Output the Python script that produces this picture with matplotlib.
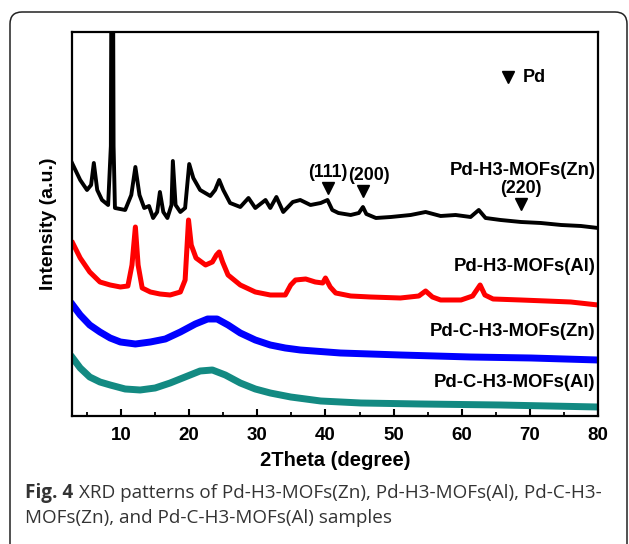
import matplotlib
matplotlib.use("Agg")
import matplotlib.pyplot as plt
from matplotlib.patches import FancyBboxPatch

plt.rcParams['font.family'] = ['Liberation Sans', 'DejaVu Sans']

# ---------------- datos ----------------
# Pd-H3-MOFs(Zn)
zn_x = [2.8, 4.0, 5.0, 5.6, 6.0, 6.5, 7.2, 8.1, 8.5, 8.7, 8.9, 9.1, 10.6, 11.5, 12.1, 12.7,
        13.4, 14.1, 14.7, 15.3, 15.7, 16.2, 16.8, 17.4, 17.6, 18.0, 18.7, 19.4, 20.0, 20.6,
        21.6, 23.1, 23.8, 24.4, 25.0, 26.0, 27.5, 28.7, 29.7, 31.2, 31.9, 32.8, 33.8, 35.2,
        36.3, 37.8, 39.3, 40.3, 41.0, 41.9, 43.7, 44.9, 45.5, 46.0, 47.4, 49.6, 52.5, 54.7,
        56.9, 59.1, 61.3, 62.5, 63.5, 65.7, 68.7, 71.6, 74.6, 77.5, 80.0]
zn_y = [253, 236, 226, 231, 253, 226, 216, 211, 270, 700, 270, 208, 206, 221, 249, 221,
        208, 210, 198, 204, 224, 204, 198, 211, 255, 211, 204, 208, 252, 238,
        226, 220, 226, 236, 226, 213, 209, 218, 208, 216, 208, 219, 204, 214,
        216, 211, 213, 216, 206, 203, 201, 203, 209, 202, 198, 199, 201, 204,
        200, 201, 199, 206, 198, 196, 194, 193, 191, 190, 188]

# Pd-H3-MOFs(Al)
al_x = [2.9, 4.0, 5.4, 6.9, 8.4, 9.9, 11.0, 11.6, 12.1, 12.5, 13.1, 14.3, 15.7, 17.2, 18.7,
        19.4, 19.9, 20.3, 21.0, 22.4, 23.4, 24.0, 24.4, 24.9, 25.7, 27.5, 29.7, 31.9, 34.1,
        34.9, 35.6, 37.1, 38.5, 39.6, 40.0, 40.7, 41.5, 43.7, 46.6, 51.0, 53.7, 54.7, 55.7,
        56.9, 59.9, 61.6, 62.7, 63.4, 64.6, 68.7, 72.4, 76.0, 80.0]
al_y = [173, 158, 144, 134, 131, 129, 130, 151, 189, 151, 128, 124, 122, 121, 124,
        136, 196, 171, 158, 151, 154, 161, 164, 154, 141, 131, 124, 121, 121,
        131, 136, 137, 134, 133, 138, 129, 123, 120, 119, 118, 120, 125, 119,
        116, 116, 120, 131, 121, 117, 116, 115, 114, 111]

# Pd-C-H3-MOFs(Zn)
czn_x = [2.9, 4.0, 5.4, 6.9, 8.4, 9.9, 12.1, 14.3, 16.5, 18.7, 20.9, 22.7, 24.1, 25.7,
         27.5, 29.7, 31.9, 34.1, 36.3, 42.2, 51.0, 61.3, 70.2, 80.0]
czn_y = [111, 101, 91, 84, 78, 74, 72, 74, 77, 84, 92, 97, 97, 91,
         83, 76, 71, 68, 66, 63, 61, 59, 58, 56]

# Pd-C-H3-MOFs(Al)
cal_x = [2.9, 4.0, 5.4, 6.9, 8.4, 10.6, 12.8, 15.0, 17.2, 19.4, 21.6, 23.4, 25.3, 27.5,
         29.7, 31.9, 34.9, 39.3, 45.2, 54.0, 65.7, 80.0]
cal_y = [58, 48, 39, 34, 31, 27, 26, 28, 33, 39, 45, 46, 41, 33,
         27, 23, 19, 15, 13, 12, 11, 9]

# picos de Pd
pd_hkl = ['(111)', '(200)', '(220)']
pd_x = [40.3, 45.5, 68.7]
pd_y = [228, 225, 212]

names = ['Pd-H3-MOFs(Zn)', 'Pd-H3-MOFs(Al)', 'Pd-C-H3-MOFs(Zn)', 'Pd-C-H3-MOFs(Al)']
name_y = [245, 149, 84, 33]

# ---------------- grafica ----------------
fig = plt.figure(figsize=(6.29, 5.44), dpi=100)

frame = FancyBboxPatch((0.10, -0.4), 6.17, 5.72, boxstyle="round,pad=0,rounding_size=0.12",
                       transform=fig.dpi_scale_trans, fill=False, ec='#222222', lw=1.1)
fig.patches.append(frame)

ax = fig.add_axes([0.1145, 0.2353, 0.8362, 0.7059])
ax.plot(zn_x, zn_y, color='black', lw=2.8)
ax.plot(al_x, al_y, color='#ff0000', lw=3.6)
ax.plot(czn_x, czn_y, color='#0000ff', lw=5)
ax.plot(cal_x, cal_y, color='#138a82', lw=5)

for lab, xx, yy in zip(pd_hkl, pd_x, pd_y):
    ax.plot(xx, yy, marker='v', color='black', ms=9, ls='none')
    ax.text(xx + (0.9 if lab == '(200)' else 0.0), yy + 15, lab, ha='center', va='center',
            fontsize=12.8, fontweight='bold')

ax.plot(66.8, 339, marker='v', color='black', ms=9, ls='none')
ax.text(69.0, 338, 'Pd', ha='left', va='center', fontsize=13, fontweight='bold')

for n, yy in zip(names, name_y):
    ax.text(79.6, yy, n, ha='right', va='center', fontsize=13.3, fontweight='bold')

ax.set_xlim(2.8, 80)
ax.set_ylim(0, 384)
ax.set_xticks([10, 20, 30, 40, 50, 60, 70, 80])
ax.set_xticks([5, 15, 25, 35, 45, 55, 65, 75], minor=True)
ax.set_yticks([])
ax.tick_params(axis='x', which='major', direction='in', length=5, width=1.5, pad=8,
               labelsize=13.5)
ax.tick_params(axis='x', which='minor', direction='in', length=3, width=1.3)
for lbl in ax.get_xticklabels():
    lbl.set_fontweight('bold')
for s in ax.spines.values():
    s.set_linewidth(1.6)

ax.set_xlabel('2Theta (degree)', fontsize=14.5, fontweight='bold', labelpad=5)
ax.set_ylabel('Intensity (a.u.)', fontsize=14, fontweight='bold', labelpad=11)

# pie de figura
cap_font = ['Open Sans', 'DejaVu Sans']
cap_size = 13.6
t1 = fig.text(25 / 629, 1 - 493 / 544, 'Fig. 4', fontsize=cap_size, fontweight='bold',
              color='#333333', family=cap_font, va='center')
fig.canvas.draw()
bb = t1.get_window_extent()
fig.text((bb.x1 + 6) / 629, 1 - 493 / 544,
         'XRD patterns of Pd-H3-MOFs(Zn), Pd-H3-MOFs(Al), Pd-C-H3-',
         fontsize=cap_size, color='#333333', family=cap_font, va='center')
fig.text(25 / 629, 1 - 518 / 544, 'MOFs(Zn), and Pd-C-H3-MOFs(Al) samples',
         fontsize=cap_size, color='#333333', family=cap_font, va='center')

plt.savefig('out.png', dpi=100)
